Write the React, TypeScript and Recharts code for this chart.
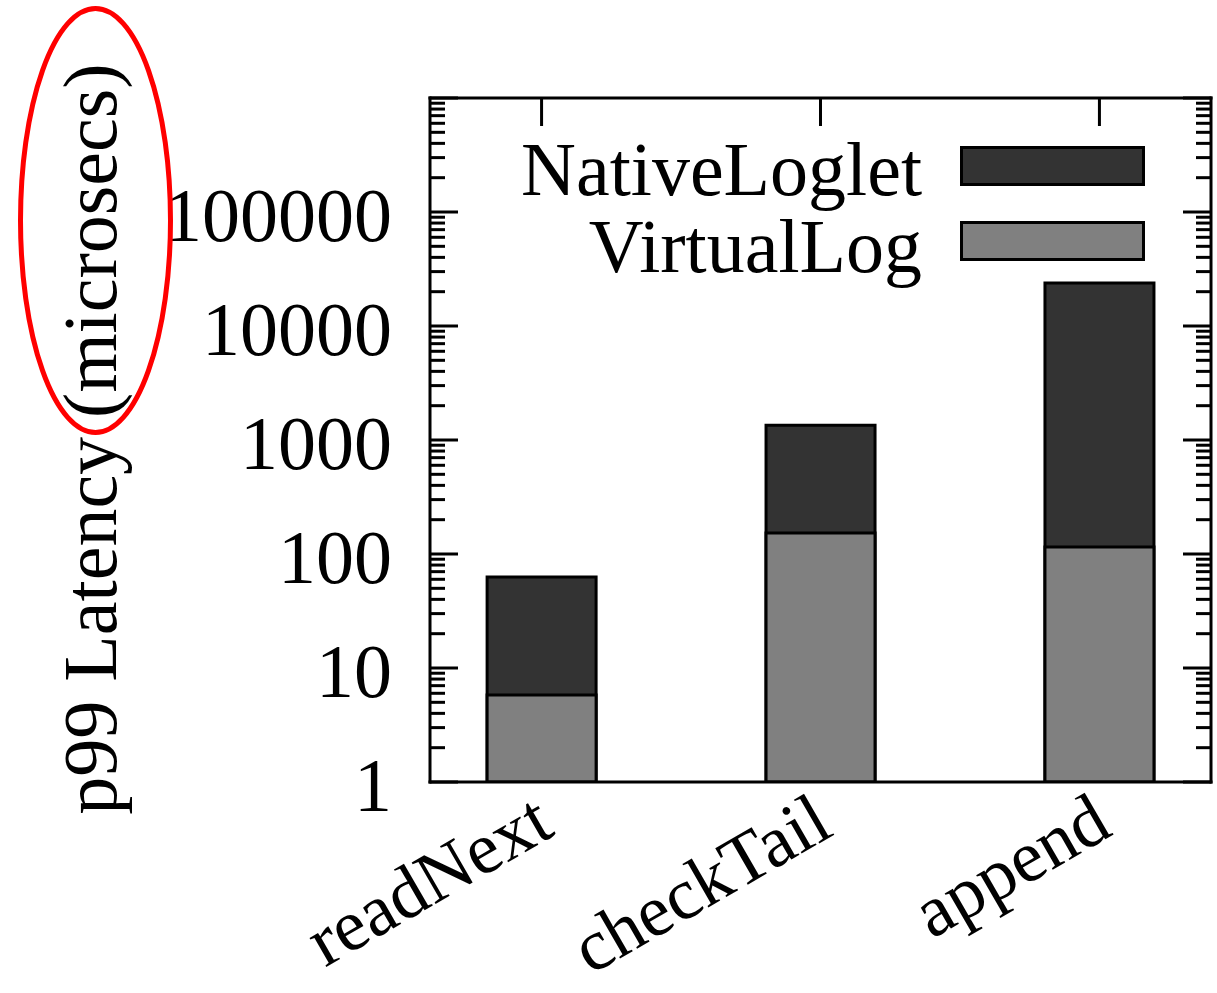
import { Bar, BarChart, Legend, XAxis, YAxis } from 'recharts'

const operations = ['readNext', 'checkTail', 'append']
const nativeLoglet = [63, 1350, 23800]
const virtualLog = [5.8, 153, 115]
const majorTicks = [1, 10, 100, 1000, 10000, 100000, 1000000]
const minorSteps = [2, 3, 4, 5, 6, 7, 8, 9]
const categoryTicks = [0, 1, 2]

const data = operations.map((name, i) => ({
  idx: i,
  name,
  native: nativeLoglet[i],
  virtual: virtualLog[i],
}))

// log axis: labelled decades plus the 2..9 minor marks inside each decade
const yTicks = majorTicks.flatMap((t) =>
  t < 1000000 ? [t, ...minorSteps.map((s) => s * t)] : [t],
)

const FONT = '"Liberation Serif", "Times New Roman", serif'
const frame = { stroke: '#000', strokeWidth: 3, strokeLinecap: 'square' as const }

function LeftTick({ x, y, payload }: any) {
  const v = payload.value
  const major = majorTicks.includes(v)
  return (
    <g>
      <line x1={x} x2={x + (major ? 28 : 15)} y1={y} y2={y} stroke="#000" strokeWidth={3} />
      {major && v < 1000000 ? (
        <text x={x - 38} y={y + 29} textAnchor="end" fontSize={76} fontFamily={FONT} fill="#000">
          {v}
        </text>
      ) : null}
    </g>
  )
}

function RightTick({ x, y, payload }: any) {
  const major = majorTicks.includes(payload.value)
  return <line x1={x} x2={x - (major ? 28 : 15)} y1={y} y2={y} stroke="#000" strokeWidth={3} />
}

function TopTick({ x, y }: any) {
  return <line x1={x} x2={x} y1={y} y2={y + 28} stroke="#000" strokeWidth={3} />
}

// category names, rotated and ending just right of the bar centre
function BottomTick({ x, y, payload }: any) {
  const ax = x + 15
  const ay = y + 52
  return (
    <text
      x={ax}
      y={ay}
      textAnchor="end"
      transform={`rotate(-30, ${ax}, ${ay})`}
      fontSize={73}
      fontFamily={FONT}
      fill="#000"
    >
      {operations[payload.value]}
    </text>
  )
}

function YTitle({ viewBox }: any) {
  const x = viewBox.x + viewBox.width - 314
  const y = viewBox.y + viewBox.height / 2 - 1
  return (
    <text
      x={x}
      y={y}
      textAnchor="middle"
      transform={`rotate(-90, ${x}, ${y})`}
      fontSize={76}
      fontFamily={FONT}
      fill="#000"
    >
      p99 Latency (microsecs)
    </text>
  )
}

function LegendBox({ payload }: any) {
  return (
    <svg width={1217} height={300} style={{ display: 'block' }}>
      {(payload ?? []).map((p: any, i: number) => (
        <g key={p.value}>
          <text x={922} y={195 + i * 77} textAnchor="end" fontSize={76} fontFamily={FONT} fill="#000">
            {p.value}
          </text>
          <rect
            x={961.5}
            y={147.5 + i * 75}
            width={182}
            height={37}
            fill={p.color}
            stroke="#000"
            strokeWidth={3}
          />
        </g>
      ))}
    </svg>
  )
}

export default function App() {
  return (
    <div style={{ position: 'absolute', left: 0, top: 0, width: 1217, height: 993, background: '#fff' }}>
      <BarChart
        width={1217}
        height={993}
        data={data}
        margin={{ top: 97, right: 5, bottom: 210, left: 429 }}
      >
        <XAxis
          xAxisId="native"
          dataKey="idx"
          type="number"
          domain={[-0.4, 2.4]}
          ticks={categoryTicks}
          interval={0}
          height={1}
          tickSize={0}
          tickMargin={0}
          tickLine={false}
          axisLine={frame}
          tick={<BottomTick />}
        />
        <XAxis xAxisId="virtual" dataKey="idx" type="number" domain={[-0.4, 2.4]} hide />
        <XAxis
          xAxisId="top"
          orientation="top"
          dataKey="idx"
          type="number"
          domain={[-0.4, 2.4]}
          ticks={categoryTicks}
          interval={0}
          height={1}
          tickSize={0}
          tickMargin={0}
          tickLine={false}
          axisLine={frame}
          tick={<TopTick />}
        />
        <YAxis
          yAxisId="left"
          scale="log"
          type="number"
          domain={[1, 1000000]}
          allowDataOverflow
          ticks={yTicks}
          interval={0}
          width={1}
          tickSize={0}
          tickMargin={0}
          tickLine={false}
          axisLine={frame}
          tick={<LeftTick />}
          label={<YTitle />}
        />
        <YAxis
          yAxisId="right"
          orientation="right"
          scale="log"
          type="number"
          domain={[1, 1000000]}
          allowDataOverflow
          ticks={yTicks}
          interval={0}
          width={1}
          tickSize={0}
          tickMargin={0}
          tickLine={false}
          axisLine={frame}
          tick={<RightTick />}
        />
        <Legend
          layout="vertical"
          align="center"
          verticalAlign="middle"
          wrapperStyle={{ position: 'absolute', left: 0, top: 0, width: 1217, height: 300 }}
          content={<LegendBox />}
        />
        <Bar
          xAxisId="native"
          yAxisId="left"
          dataKey="native"
          name="NativeLoglet"
          fill="#333333"
          stroke="#000"
          strokeWidth={3}
          barSize={109}
          isAnimationActive={false}
        />
        <Bar
          xAxisId="virtual"
          yAxisId="left"
          dataKey="virtual"
          name="VirtualLog"
          fill="#808080"
          stroke="#000"
          strokeWidth={3}
          barSize={109}
          isAnimationActive={false}
        />
      </BarChart>
      <svg
        width={1217}
        height={993}
        style={{ position: 'absolute', left: 0, top: 0, pointerEvents: 'none' }}
      >
        <ellipse cx={95.5} cy={220.5} rx={75} ry={212} fill="none" stroke="#ff0000" strokeWidth={5} />
      </svg>
    </div>
  )
}
